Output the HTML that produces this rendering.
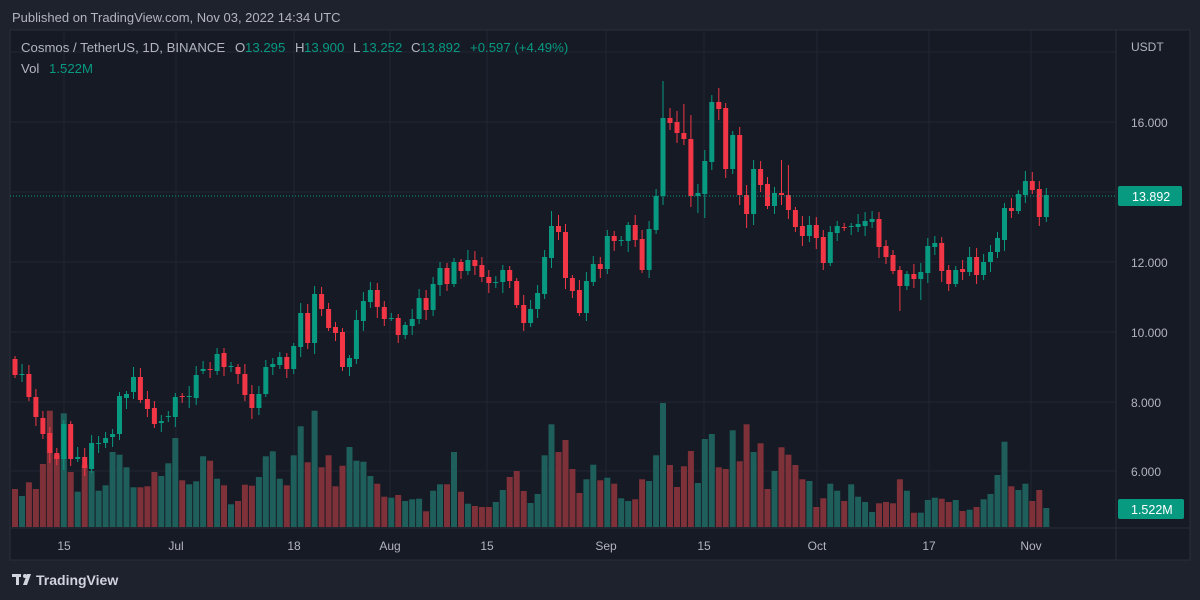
<!DOCTYPE html>
<html><head><meta charset="utf-8"><style>
html,body{margin:0;padding:0;background:#1e222d;width:1200px;height:600px;overflow:hidden;font-family:"Liberation Sans",sans-serif;}
svg{position:absolute;left:0;top:0}
</style></head><body>
<svg id="s" width="1200" height="600" xmlns="http://www.w3.org/2000/svg">
<rect x="0" y="0" width="1200" height="600" fill="#1e222d"/>
<rect x="10" y="30" width="1180" height="530" fill="#161a25" stroke="#2a2e39" stroke-width="1"/>
<g id="grid" stroke="#222632" stroke-width="1"></g>
<line x1="1116" y1="30" x2="1116" y2="560" stroke="#2a2e39"/>
<line x1="10" y1="528" x2="1190" y2="528" stroke="#2a2e39"/>
<g id="vol"></g>
<g id="cdl"></g>
<line x1="10" y1="196" x2="1116" y2="196" stroke="#089981" stroke-dasharray="1 2" stroke-width="1"/>
<g font-size="12" fill="#b2b5be" font-family="Liberation Sans, sans-serif">
<text x="12" y="22" font-size="13">Published on TradingView.com, Nov 03, 2022 14:34 UTC</text>
<g font-size="13.2">
<text x="21" y="52">Cosmos / TetherUS, 1D, BINANCE</text>
<text x="235" y="52">O</text><text x="245" y="52" fill="#089981">13.295</text>
<text x="295" y="52">H</text><text x="304" y="52" fill="#089981">13.900</text>
<text x="353" y="52">L</text><text x="362" y="52" fill="#089981">13.252</text>
<text x="411" y="52">C</text><text x="420" y="52" fill="#089981">13.892</text>
<text x="470" y="52" fill="#089981">+0.597 (+4.49%)</text>
<text x="21" y="73">Vol</text><text x="49" y="73" fill="#089981">1.522M</text>
</g>
<text x="1131" y="51">USDT</text>
<text x="1131" y="127">16.000</text>
<text x="1131" y="267">12.000</text>
<text x="1131" y="337">10.000</text>
<text x="1131" y="407">8.000</text>
<text x="1131" y="476">6.000</text>
<g text-anchor="middle">
<text x="64" y="550">15</text><text x="176" y="550">Jul</text><text x="294" y="550">18</text>
<text x="390" y="550">Aug</text><text x="487" y="550">15</text><text x="606" y="550">Sep</text>
<text x="704" y="550">15</text><text x="817" y="550">Oct</text><text x="929" y="550">17</text>
<text x="1031" y="550">Nov</text></g>
</g>
<rect x="1118" y="186" width="64" height="20" rx="2" fill="#089981"/>
<text x="1132" y="201" font-size="12.5" fill="#fff">13.892</text>
<rect x="1118" y="499" width="66" height="20" rx="2" fill="#089981"/>
<text x="1131" y="514" font-size="12.5" fill="#fff">1.522M</text>
<g fill="#d1d4dc"><rect x="12" y="574" width="9" height="3"/><rect x="16" y="574" width="3" height="11"/><circle cx="25" cy="576" r="2"/><path d="M27 574 L31 574 L27 585 L23 585Z"/></g>
<text x="36" y="585" font-size="14" fill="#d1d4dc" font-weight="bold">TradingView</text>
</svg>
<script>
var C=[[359,375],[374,374],[374,397],[397,417],[418,434],[433,453],[453,459],[459,424],[424,459],[459,457],[457,468],[469,443],[444,443],[443,438],[437,434],[434,396],[398,394],[392,377],[377,400],[399,409],[408,424],[423,421],[417,416],[417,397],[396,397],[397,396],[398,375],[371,369],[369,370],[371,354],[353,367],[367,366],[367,374],[374,395],[394,408],[408,394],[394,367],[367,364],[365,357],[357,369],[369,346],[347,313],[313,343],[343,294],[294,309],[309,328],[327,333],[332,367],[367,358],[359,320],[321,301],[302,290],[290,307],[307,319],[318,318],[318,335],[335,325],[326,319],[319,298],[298,310],[310,284],[285,268],[268,284],[284,262],[262,271],[271,260],[260,266],[265,277],[277,283],[282,282],[282,270],[270,281],[281,305],[305,323],[323,309],[309,293],[294,257],[258,226],[226,232],[232,278],[278,291],[290,313],[313,281],[282,264],[264,269],[269,236],[236,241],[240,240],[241,225],[225,240],[239,270],[270,229],[230,196],[196,118],[118,123],[122,133],[133,139],[139,196],[196,193],[194,161],[162,102],[102,109],[108,169],[169,135],[135,195],[195,214],[214,169],[169,185],[184,206],[206,193],[193,195],[195,210],[210,227],[226,236],[236,225],[225,238],[237,263],[263,232],[233,226],[227,227],[226,226],[227,224],[226,221],[222,219],[219,247],[246,257],[255,271],[270,286],[286,274],[274,279],[279,272],[273,246],[247,243],[243,271],[270,284],[284,270],[269,272],[272,257],[257,275],[275,262],[262,252],[252,238],[240,208],[208,211],[211,194],[195,181],[181,190],[189,217],[217,195]];
var red=[0,2,3,4,5,6,8,10,18,19,20,24,28,30,32,33,34,39,42,44,45,46,47,52,53,55,59,62,64,66,67,68,71,72,73,78,79,80,81,84,86,89,90,94,95,96,97,101,102,104,105,107,108,110,111,112,113,115,116,119,124,125,126,127,129,133,134,136,138,143,146,147];
var V=[282,303,262,282,207,47,180,55,231,290,210,228,287,271,171,179,217,277,277,274,231,243,205,129,256,268,259,184,197,251,271,328,318,269,272,246,184,169,251,271,181,94,202,47,217,181,274,212,156,197,200,243,266,305,308,300,318,313,311,349,287,268,268,171,290,326,333,336,336,321,285,246,228,288,324,297,181,88,171,135,222,294,253,209,256,248,266,310,318,313,253,258,181,24,210,276,214,168,264,132,117,217,222,106,199,88,171,145,282,228,157,179,210,253,258,336,310,266,287,318,268,305,321,351,325,321,325,253,287,353,353,315,308,311,321,315,348,344,336,313,297,240,140,274,285,266,318,285,339];
var W={93:[81,200],77:[211,262],127:[270,311],100:[95,166],101:[88,120],97:[115,204],96:[104,142],95:[111,140],94:[108,130],104:[127,205],105:[195,228],98:[200,213],99:[150,218],78:[215,240],79:[224,284],92:[190,234],136:[260,280],143:[198,215],147:[183,226],130:[265,300],132:[238,255],110:[160,205],111:[165,215],144:[190,214]};
var NS="http://www.w3.org/2000/svg";
function el(g,t,a){var e=document.createElementNS(NS,t);for(var k in a)e.setAttribute(k,a[k]);document.getElementById(g).appendChild(e);}
[52,122,192,262,332,402,471].forEach(function(y){el("grid","line",{x1:10,x2:1116,y1:y,y2:y});});
[64,176,294,390,487,606,704,817,929,1031].forEach(function(x){el("grid","line",{x1:x,x2:x,y1:30,y2:528});});
var rs={};red.forEach(function(i){rs[i]=1;});
for(var i=0;i<C.length;i++){
 var x=15+i*6.968,o=C[i][0],c=C[i][1];
 var isR = o<c ? true : (o>c?false:!!rs[i]);
 var col=isR?"#f23645":"#089981";
 if(V[i]!==undefined){var vt=395+V[i]/3;el("vol","rect",{x:(x-3).toFixed(1),y:vt.toFixed(1),width:6,height:(527-vt).toFixed(1),fill:isR?"#7f3139":"#1f5f5b"});}
 var t=Math.min(o,c),b=Math.max(o,c);
 var h=t-(3+(i*7)%8),l=b+(3+(i*5)%9);
 if(W[i]){h=Math.min(h,W[i][0]);l=Math.max(l,W[i][1]);}
 el("cdl","line",{x1:x.toFixed(1),x2:x.toFixed(1),y1:h,y2:l,stroke:col,"stroke-width":1});
 el("cdl","rect",{x:(x-2.5).toFixed(1),y:t,width:5,height:Math.max(1,b-t),fill:col});
}
</script>
</body></html>
